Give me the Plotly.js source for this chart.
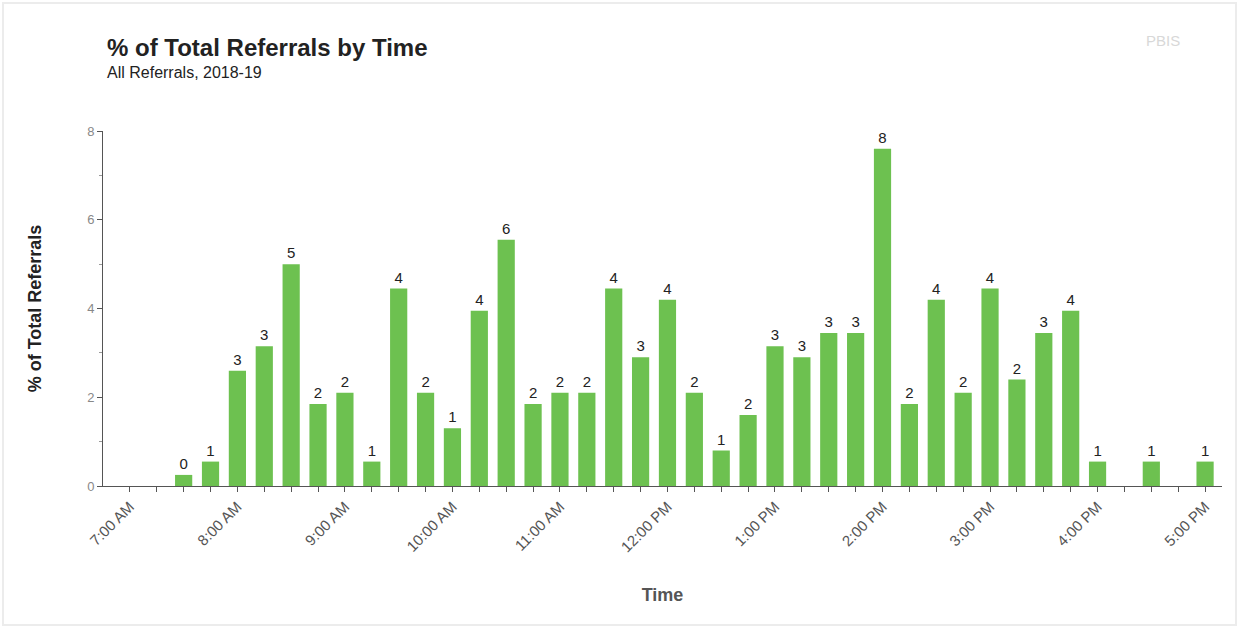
<!DOCTYPE html>
<html>
<head>
<meta charset="utf-8">
<script src="https://cdn.plot.ly/plotly-3.0.1.min.js"></script>
<style>
  html, body { margin: 0; padding: 0; background: #ffffff; }
  #wrap { position: relative; width: 1237px; height: 628px; }
  #frame { position: absolute; left: 2px; top: 2px; width: 1231px; height: 620px; border: 2px solid #ececec; box-sizing: content-box; pointer-events: none; }
  #chart { position: absolute; left: 0; top: 0; width: 1237px; height: 628px; }
</style>
</head>
<body>
<div id="wrap">
  <div id="chart"></div>
  <div id="frame"></div>
</div>
<script>
// Time slots (15-minute intervals)
const times = [
  "7:00 AM","7:15 AM","7:30 AM","7:45 AM",
  "8:00 AM","8:15 AM","8:30 AM","8:45 AM",
  "9:00 AM","9:15 AM","9:30 AM","9:45 AM",
  "10:00 AM","10:15 AM","10:30 AM","10:45 AM",
  "11:00 AM","11:15 AM","11:30 AM","11:45 AM",
  "12:00 PM","12:15 PM","12:30 PM","12:45 PM",
  "1:00 PM","1:15 PM","1:30 PM","1:45 PM",
  "2:00 PM","2:15 PM","2:30 PM","2:45 PM",
  "3:00 PM","3:15 PM","3:30 PM","3:45 PM",
  "4:00 PM","4:15 PM","4:30 PM","4:45 PM",
  "5:00 PM"
];
// % of total referrals per slot (null = no referrals)
const pctReferrals = [
  null, null, 0.25, 0.55,
  2.6, 3.15, 5.0, 1.85,
  2.1, 0.55, 4.45, 2.1,
  1.3, 3.95, 5.55, 1.85,
  2.1, 2.1, 4.45, 2.9,
  4.2, 2.1, 0.8, 1.6,
  3.15, 2.9, 3.45, 3.45,
  7.6, 1.85, 4.2, 2.1,
  4.45, 2.4, 3.45, 3.95,
  0.55, null, 0.55, null,
  0.55
];
// Labelled hour ticks
const hourLabels = ["7:00 AM","8:00 AM","9:00 AM","10:00 AM","11:00 AM","12:00 PM","1:00 PM","2:00 PM","3:00 PM","4:00 PM","5:00 PM"];
const yTicks = [0, 2, 4, 6, 8];

const tickText = times.map(t => hourLabels.includes(t) ? t : "");

const trace = {
  type: "bar",
  x: times,
  y: pctReferrals,
  marker: { color: "#6dc150" },
  texttemplate: "%{y:.0f}",
  textposition: "outside",
  cliponaxis: false,
  textfont: { family: "Arial, Liberation Sans, sans-serif", size: 15, color: "#222222" },
  hoverinfo: "x+y"
};

const layout = {
  width: 1237,
  height: 628,
  paper_bgcolor: "rgba(0,0,0,0)",
  plot_bgcolor: "#ffffff",
  margin: { l: 103, r: 15, t: 131, b: 142 },
  showlegend: false,
  bargap: 0.36,
  font: { family: "Arial, Liberation Sans, sans-serif" },
  xaxis: {
    type: "category",
    categoryorder: "array",
    categoryarray: times,
    range: [-1, 40.63],
    tickmode: "array",
    tickvals: times,
    ticktext: tickText,
    tickangle: -45,
    ticks: "outside",
    ticklen: 5,
    tickcolor: "#555555",
    tickfont: { size: 15, color: "#555555" },
    showline: true,
    linecolor: "#555555",
    linewidth: 1,
    showgrid: false,
    zeroline: false,
    title: { text: "<b>Time</b>", font: { size: 18, color: "#555555" }, standoff: 34 }
  },
  yaxis: {
    range: [0, 8],
    tickmode: "array",
    tickvals: yTicks,
    ticks: "outside",
    ticklen: 5,
    tickcolor: "#555555",
    tickfont: { size: 13, color: "#888888" },
    minor: { dtick: 1, ticks: "outside", ticklen: 3, tickcolor: "#999999", showgrid: false },
    showline: true,
    linecolor: "#555555",
    linewidth: 1,
    showgrid: false,
    zeroline: false,
    title: { text: "<b>% of Total Referrals</b>", font: { size: 18, color: "#222222" }, standoff: 40 }
  },
  annotations: [
    {
      xref: "paper", yref: "paper",
      x: 0.0018, y: 1.234, xanchor: "left", yanchor: "middle",
      text: "<b>% of Total Referrals by Time</b>", showarrow: false,
      font: { size: 24, color: "#222222" }
    },
    {
      xref: "paper", yref: "paper",
      x: 0.0018, y: 1.166, xanchor: "left", yanchor: "middle",
      text: "All Referrals, 2018-19", showarrow: false,
      font: { size: 16, color: "#222222" }
    },
    {
      xref: "paper", yref: "paper",
      x: 1.0, y: 1.0, xanchor: "right", yanchor: "bottom",
      xshift: -40, yshift: 80,
      text: "PBIS", showarrow: false,
      font: { size: 15, color: "#d8d8d8" }
    }
  ]
};

Plotly.newPlot("chart", [trace], layout, { displayModeBar: false, staticPlot: true });
</script>
</body>
</html>
